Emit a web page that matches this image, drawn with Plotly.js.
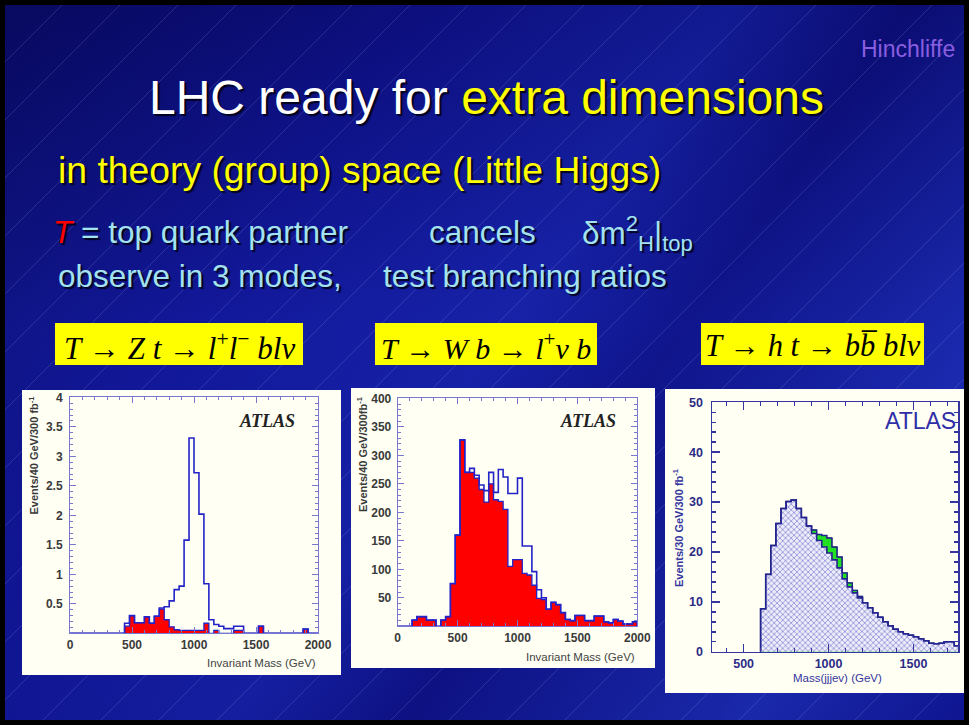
<!DOCTYPE html>
<html><head><meta charset="utf-8">
<script src="https://cdn.plot.ly/plotly-3.0.1.min.js"></script>
<style>
html,body{margin:0;padding:0;width:969px;height:725px;overflow:hidden;background:#000;}
#slide{position:absolute;left:0;top:0;width:969px;height:725px;box-sizing:border-box;border:5px solid #000;
background:
 repeating-linear-gradient(135deg, rgba(255,255,255,0) 0px, rgba(255,255,255,0) 40px, rgba(190,200,255,0.16) 40px, rgba(190,200,255,0.16) 41px),
 linear-gradient(125deg, rgba(0,0,40,0.35) 0%, rgba(0,0,40,0.0) 28%, rgba(40,70,220,0.22) 50%, rgba(0,0,40,0.12) 62%, rgba(50,90,235,0.30) 85%, rgba(20,40,170,0.1) 100%),
 linear-gradient(180deg, #0c0e7c 0%, #12189a 45%, #0f138e 100%);}
#chart{position:absolute;left:0;top:0;width:969px;height:725px;}
</style></head>
<body><div id="slide"></div><div id="chart"></div>
<script>
// ---------- data ----------
// Chart 1: T -> Z t, 40 GeV bins from 0 to 2000
const c1BinStart = 0, c1BinWidth = 40;
const c1Total = [0,0,0,0,0,0,0,0,0,0,0,0.17,0.30,0.18,0.18,0.28,0.17,0.29,0.43,0.45,
  0.55,0.74,0.80,1.58,3.31,2.72,2.02,0.84,0.23,0.15,0.12,0.08,0.08,0.12,0.12,0,0,0,0.12,0,
  0,0,0,0,0,0,0,0.07,0,0];
const c1Bkg = [0,0,0,0,0,0,0,0,0,0,0,0.12,0.30,0.18,0.18,0.28,0.17,0.29,0.41,0.23,
  0.11,0.06,0.05,0.05,0.05,0.05,0.05,0.17,0,0.05,0,0,0,0.05,0.05,0,0,0,0.12,0,
  0,0,0,0,0,0,0,0.07,0,0];
const c1XTicks = [0,500,1000,1500,2000];
const c1YTicks = [0.5,1,1.5,2,2.5,3,3.5,4];
const c1YTickText = ["0.5","1","1.5","2","2.5","3","3.5","4"];

// Chart 2: T -> W b, 40 GeV bins from 0 to 2000
const c2BinStart = 0, c2BinWidth = 40;
const c2Total = [0,0,0,11,17,17,11,11,0,11,17,75,160,327,270,277,265,248,238,270,
  235,275,262,233,233,260,141,141,96,64,50,30,42,38,24,12,10,19,19,10,
  10,18,18,8,6,12,9,4,4,8];
const c2Bkg = [0,0,0,11,17,17,11,11,0,11,17,75,160,327,270,270,260,240,218,250,
  222,219,205,105,117,117,93,90,72,49,47,30,42,38,24,12,10,19,19,10,
  10,18,18,8,6,12,9,4,4,8];
const c2XTicks = [0,500,1000,1500,2000];
const c2YTicks = [50,100,150,200,250,300,350,400];

// Chart 3: T -> h t, 30 GeV bins from 600
const c3BinStart = 600, c3BinWidth = 30;
const c3Bkg = [8.6,15.5,21.3,25.7,28.7,30.1,30.4,28.7,26.9,25.2,
  23.7,22.3,21.0,19.8,18.4,16.8,14.6,13.0,11.8,10.8,
  9.8,8.8,7.8,6.9,6.0,5.2,4.5,4.0,3.6,3.3,
  3.0,2.6,2.2,1.7,1.6,1.7,2.0,2.0,1.2];
const c3Signal = [0,0,0,0,0,0,0,0,0,0,
  0.7,1.2,2.3,3.0,2.6,2.2,1.2,0.8,0.5,0.3,
  0,0,0,0,0,0,0,0,0,0,
  0,0,0,0,0,0,0,0,0];
const c3XTicks = [500,1000,1500];
const c3YTicks = [0,10,20,30,40,50];

// ---------- helpers ----------
const W = 969, H = 725;
const fx = p => p / W, fy = p => 1 - p / H;
function step(start, width, vals){
  const x=[start], y=[0];
  for(let i=0;i<vals.length;i++){ x.push(start+i*width); y.push(vals[i]); }
  x.push(start+vals.length*width); y.push(0);
  return {x, y};
}
const SANS = "Liberation Sans, Arial, sans-serif";
const SERIF = "Liberation Serif, Times New Roman, serif";

const s1b = step(c1BinStart, c1BinWidth, c1Bkg);
const s1t = step(c1BinStart, c1BinWidth, c1Total);
const s2b = step(c2BinStart, c2BinWidth, c2Bkg);
const s2t = step(c2BinStart, c2BinWidth, c2Total);
const c3Tot = c3Bkg.map((v,i)=>v + c3Signal[i]);
const s3b = step(c3BinStart, c3BinWidth, c3Bkg);
const s3t = step(c3BinStart, c3BinWidth, c3Tot);

const traces = [
  {x:s1b.x, y:s1b.y, xaxis:'x', yaxis:'y', mode:'lines', line:{shape:'hv', color:'#2323c8', width:1.3}, fill:'tozeroy', fillcolor:'#ff0000', hoverinfo:'skip'},
  {x:s1t.x, y:s1t.y, xaxis:'x', yaxis:'y', mode:'lines', line:{shape:'hv', color:'#2323c8', width:1.6}, hoverinfo:'skip'},
  {x:s2b.x, y:s2b.y, xaxis:'x2', yaxis:'y2', mode:'lines', line:{shape:'hv', color:'#2323c8', width:1.3}, fill:'tozeroy', fillcolor:'#ff0000', hoverinfo:'skip'},
  {x:s2t.x, y:s2t.y, xaxis:'x2', yaxis:'y2', mode:'lines', line:{shape:'hv', color:'#2323c8', width:1.6}, hoverinfo:'skip'},
  {x:s3t.x, y:s3t.y, xaxis:'x3', yaxis:'y3', mode:'lines', line:{shape:'hv', color:'#1d5a2a', width:1}, fill:'tozeroy', fillcolor:'#22e022', hoverinfo:'skip'},
  {x:s3b.x, y:s3b.y, xaxis:'x3', yaxis:'y3', mode:'lines', line:{shape:'hv', color:'#24248f', width:1.6}, fill:'tozeroy',
    fillpattern:{shape:'x', bgcolor:'#ececfa', fgcolor:'#8a8ad6', size:4, solidity:0.35}, hoverinfo:'skip'},
  {x:s3t.x, y:s3t.y, xaxis:'x3', yaxis:'y3', mode:'lines', line:{shape:'hv', color:'#24248f', width:1.4}, hoverinfo:'skip'}
];

function rootAxis(extra){
  return Object.assign({
    showgrid:false, zeroline:false, showline:true, mirror:'ticks', linecolor:'#7878d0', linewidth:1,
    ticks:'inside', ticklen:6, tickcolor:'#7878d0', tickwidth:1,
    tickfont:{family:SANS, size:12, color:'#3a3a3a', weight:'bold'}, fixedrange:true
  }, extra);
}

const layout = {
  width:W, height:H, margin:{l:0,r:0,t:0,b:0},
  paper_bgcolor:'rgba(0,0,0,0)', plot_bgcolor:'rgba(0,0,0,0)', showlegend:false,
  xaxis: rootAxis({domain:[fx(70),fx(318)], range:[0,2000], anchor:'y', tickmode:'array', tickvals:c1XTicks,
    minor:{ticks:'inside', ticklen:3, dtick:100, tickcolor:'#7878d0'}}),
  yaxis: rootAxis({domain:[fy(633.3),fy(397.3)], range:[0,4], anchor:'x', tickmode:'array', tickvals:c1YTicks, ticktext:c1YTickText,
    ticklabelstandoff:4, minor:{ticks:'inside', ticklen:3, dtick:0.1, tickcolor:'#7878d0'}}),
  xaxis2: rootAxis({domain:[fx(397.7),fx(637.3)], range:[0,2000], anchor:'y2', tickmode:'array', tickvals:c2XTicks,
    minor:{ticks:'inside', ticklen:3, dtick:100, tickcolor:'#7878d0'}}),
  yaxis2: rootAxis({domain:[fy(626.3),fy(398.3)], range:[0,400], anchor:'x2', tickmode:'array', tickvals:c2YTicks,
    ticklabelstandoff:3, minor:{ticks:'inside', ticklen:3, dtick:10, tickcolor:'#7878d0'}}),
  xaxis3: {domain:[fx(712),fx(958)], range:[314,1762], anchor:'y3', showgrid:false, zeroline:false, showline:true, mirror:'ticks',
    linecolor:'#35359e', linewidth:1.5, ticks:'inside', ticklen:8, tickcolor:'#35359e', tickwidth:1.5, tickmode:'array', tickvals:c3XTicks,
    tickfont:{family:SANS, size:12.5, color:'#2b2b86', weight:'bold'},
    minor:{ticks:'inside', ticklen:4, dtick:100, tickcolor:'#35359e'}, fixedrange:true},
  yaxis3: {domain:[fy(651.7),fy(402.3)], range:[0,50], anchor:'x3', showgrid:false, zeroline:false, showline:true, mirror:'ticks',
    linecolor:'#35359e', linewidth:1.5, ticks:'inside', ticklen:8, tickcolor:'#35359e', tickwidth:1.5, tickmode:'array', tickvals:c3YTicks,
    tickfont:{family:SANS, size:12.5, color:'#2b2b86', weight:'bold'}, ticklabelstandoff:5,
    minor:{ticks:'inside', ticklen:4, dtick:2, tickcolor:'#35359e'}, fixedrange:true},
  shapes:[
    {type:'rect', xref:'paper', yref:'paper', x0:fx(22), x1:fx(341), y0:fy(675), y1:fy(390), fillcolor:'#fffff3', line:{width:0}, layer:'below'},
    {type:'rect', xref:'paper', yref:'paper', x0:fx(351), x1:fx(655), y0:fy(668), y1:fy(388), fillcolor:'#fffff3', line:{width:0}, layer:'below'},
    {type:'rect', xref:'paper', yref:'paper', x0:fx(665), x1:fx(964), y0:fy(693), y1:fy(389), fillcolor:'#fffff3', line:{width:0}, layer:'below'},
    {type:'rect', xref:'paper', yref:'paper', x0:fx(55), x1:fx(303), y0:fy(365), y1:fy(323), fillcolor:'#ffff00', line:{width:0}, layer:'below'},
    {type:'rect', xref:'paper', yref:'paper', x0:fx(375), x1:fx(597), y0:fy(365), y1:fy(323), fillcolor:'#ffff00', line:{width:0}, layer:'below'},
    {type:'rect', xref:'paper', yref:'paper', x0:fx(701), x1:fx(924), y0:fy(365), y1:fy(323), fillcolor:'#ffff00', line:{width:0}, layer:'below'}
  ],
  annotations:[]
};

const SH = '2px 2px 1px rgba(0,0,20,0.9)';
function ann(text, x, y, o){
  layout.annotations.push(Object.assign({text, xref:'paper', yref:'paper', x:fx(x), y:fy(y), showarrow:false,
    xanchor:'left', yanchor:'middle'}, o||{}));
}
ann('Hinchliffe', 957, 49, {xanchor:'right', font:{family:SANS, size:23, color:'#8a5ee0'}});
ann('LHC ready for <span style="color:#ffff00">extra dimensions</span>', 487, 97,
  {xanchor:'center', font:{family:SANS, size:48, color:'#ffffff', shadow:SH}});
ann('in theory (group) space (Little Higgs)', 56, 170, {font:{family:SANS, size:37.3, color:'#ffff00', shadow:SH}});
ann('<i><span style="color:#ff0000">T</span></i> = top quark partner', 51, 232, {font:{family:SANS, size:31.5, color:'#a3e2ee', shadow:SH}});
ann('cancels', 427, 232, {font:{family:SANS, size:31.5, color:'#a3e2ee', shadow:SH}});
ann('δm<sup>2</sup><sub>H</sub>|<sub>top</sub>', 580, 234, {font:{family:SANS, size:31.5, color:'#a3e2ee', shadow:SH}});
ann('observe in 3 modes,', 56, 276, {font:{family:SANS, size:31.5, color:'#a3e2ee', shadow:SH}});
ann('test branching ratios', 381, 276, {font:{family:SANS, size:31.5, color:'#a3e2ee', shadow:SH}});

ann('<i>T</i> → <i>Z t</i> → <i>l</i><sup>+</sup><i>l</i><sup>−</sup> <i>blν</i>', 179, 346, {xanchor:'center', font:{family:SERIF, size:31, color:'#000'}});
ann('<i>T</i> → <i>W b</i> → <i>l</i><sup>+</sup><i>ν b</i>', 486, 346, {xanchor:'center', font:{family:SERIF, size:30, color:'#000'}});
ann('<i>T</i> → <i>h t</i> → <i>bb̅ blν</i>', 813, 346, {xanchor:'center', font:{family:SERIF, size:30.5, color:'#000'}});

// chart texts
ann('<b><i>ATLAS</i></b>', 297, 421, {xanchor:'right', font:{family:SERIF, size:18, color:'#222'}});
ann('<b><i>ATLAS</i></b>', 618, 421, {xanchor:'right', font:{family:SERIF, size:18, color:'#222'}});
ann('ATLAS', 958, 421, {xanchor:'right', font:{family:SANS, size:23, color:'#2e2ea8'}});
ann('Events/40 GeV/300 fb<sup>-1</sup>', 33, 394, {xanchor:'center', yanchor:'top', textangle:-90, font:{family:SANS, size:11, color:'#3a3a3a', weight:'bold'}});
ann('Events/40 GeV/300fb<sup>-1</sup>', 362, 394, {xanchor:'center', yanchor:'top', textangle:-90, font:{family:SANS, size:11, color:'#3a3a3a', weight:'bold'}});
ann('Events/30 GeV/300 fb<sup>-1</sup>', 678, 528, {xanchor:'center', yanchor:'middle', textangle:-90, font:{family:SANS, size:11, color:'#35359e', weight:'bold'}});
ann('Invariant Mass (GeV)', 318, 663, {xanchor:'right', font:{family:SANS, size:11.5, color:'#444'}});
ann('Invariant Mass (GeV)', 637, 657, {xanchor:'right', font:{family:SANS, size:11.5, color:'#444'}});
ann('Mass(jjjev) (GeV)', 837, 678, {xanchor:'center', font:{family:SANS, size:11.5, color:'#35359e'}});

Plotly.newPlot('chart', traces, layout, {staticPlot:true, displayModeBar:false});
</script></body></html>
